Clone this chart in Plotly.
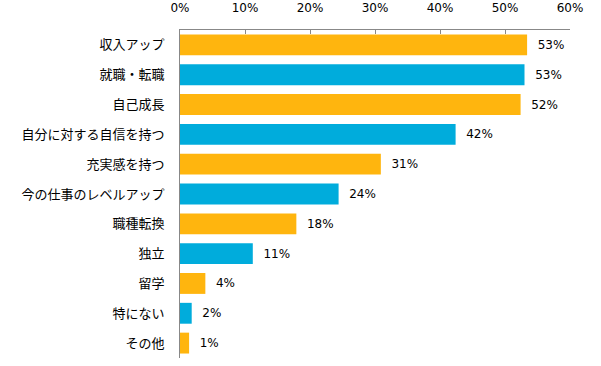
import plotly.graph_objects as go

categories = ["収入アップ", "就職・転職", "自己成長", "自分に対する自信を持つ", "充実感を持つ",
              "今の仕事のレベルアップ", "職種転換", "独立", "留学", "特にない", "その他"]
values = [53.4, 53.0, 52.4, 42.4, 30.9, 24.4, 17.9, 11.2, 3.9, 1.8, 1.4]
x_ticks = [0, 10, 20, 30, 40, 50, 60]
x_tick_labels = ["0%", "10%", "20%", "30%", "40%", "50%", "60%"]

ORANGE = "#FFB50E"
BLUE = "#00ACDC"
colors = [ORANGE if i % 2 == 0 else BLUE for i in range(len(categories))]

fig = go.Figure(go.Bar(
    x=values, y=categories, orientation="h",
    marker=dict(color=colors, line=dict(width=0)),
    texttemplate="  %{x:.0f}%", textposition="outside",
    textfont=dict(family="DejaVu Sans", size=12, color="#000000"),
    cliponaxis=False, hoverinfo="skip",
))

fig.update_layout(
    width=601, height=366,
    margin=dict(l=180, r=31, t=30, b=8),
    paper_bgcolor="white", plot_bgcolor="white",
    bargap=0.3, showlegend=False,
    font=dict(family="DejaVu Sans", size=12, color="#000000"),
)
fig.update_xaxes(
    side="top", range=[0, 60], tickvals=x_ticks, ticktext=x_tick_labels,
    ticks="inside", ticklen=4, tickcolor="#888888",
    showline=True, linecolor="#888888", linewidth=1,
    showgrid=False, zeroline=False, ticklabelstandoff=12, automargin=False,
    tickfont=dict(family="DejaVu Sans", size=12, color="#000000"),
)
fig.update_yaxes(
    autorange="reversed", showline=True, linecolor="#888888", linewidth=1,
    ticks="", showgrid=False, ticklabelstandoff=12, automargin=False,
    tickfont=dict(family="Noto Sans CJK JP", size=13, color="#000000"),
)

fig.write_html("out.html", config={"displayModeBar": False},
               post_script="document.body.style.margin='0';")
